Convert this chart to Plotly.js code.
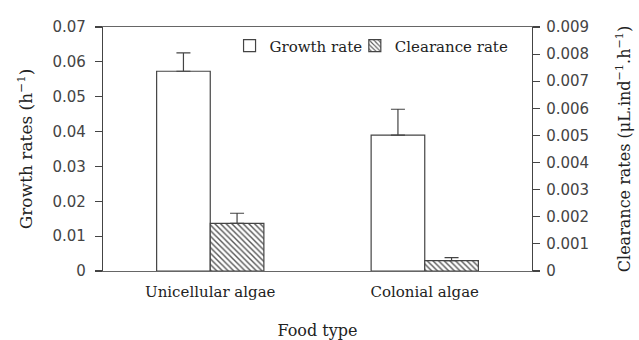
<!DOCTYPE html>
<html>
<head>
<meta charset="utf-8">
<script src="https://cdn.plot.ly/plotly-3.0.1.min.js"></script>
<style>
  html, body { margin: 0; padding: 0; background: #fff; }
  #chart { width: 639px; height: 340px; }
</style>
</head>
<body>
<div id="chart"></div>
<script>
// Food types on the x axis
const foodTypes = ['Unicellular algae', 'Colonial algae'];

// Growth rate (h^-1), left axis, with upper error
const growthRate = [0.0573, 0.0390];
const growthErr  = [0.0053, 0.0074];

// Clearance rate (uL.ind^-1.h^-1), right axis, with upper error
const clearanceRate = [0.00176, 0.00038];
const clearanceErr  = [0.00037, 0.00011];

const lineCol = '#444';
const serif = 'DejaVu Serif, Liberation Serif, serif';
const sans = 'DejaVu Sans, Verdana, sans-serif';

const growthTrace = {
  type: 'bar',
  name: 'Growth rate',
  x: foodTypes,
  y: growthRate,
  yaxis: 'y',
  offsetgroup: 'g',
  legend: 'legend',
  marker: { color: '#fff', line: { color: lineCol, width: 1.2 } },
  error_y: {
    type: 'data', symmetric: false,
    array: growthErr, arrayminus: [0, 0],
    color: lineCol, thickness: 1.2, width: 7
  }
};

const clearanceTrace = {
  type: 'bar',
  name: 'Clearance rate',
  x: foodTypes,
  y: clearanceRate,
  yaxis: 'y2',
  offsetgroup: 'c',
  legend: 'legend2',
  marker: {
    color: '#fff',
    line: { color: lineCol, width: 1.2 },
    pattern: { shape: '\\', fgcolor: '#555', bgcolor: '#fff', size: 4, solidity: 0.35 }
  },
  error_y: {
    type: 'data', symmetric: false,
    array: clearanceErr, arrayminus: [0, 0],
    color: lineCol, thickness: 1.2, width: 7
  }
};

const legendStyle = {
  orientation: 'h',
  y: 0.99, yanchor: 'top',
  xanchor: 'left',
  bgcolor: 'rgba(0,0,0,0)',
  font: { family: serif, size: 15, color: '#222' },
  itemwidth: 30
};

const layout = {
  width: 639,
  height: 340,
  margin: { l: 103, r: 107, t: 27, b: 69 },
  paper_bgcolor: '#fff',
  plot_bgcolor: '#fff',
  barmode: 'group',
  bargap: 0.5,
  bargroupgap: 0,
  showlegend: true,
  legend: Object.assign({}, legendStyle, { x: 0.295 }),
  legend2: Object.assign({}, legendStyle, { x: 0.587 }),
  xaxis: {
    type: 'category',
    showline: true, linecolor: '#666', linewidth: 1.2, mirror: true,
    ticks: '', showgrid: false, zeroline: false,
    ticklabelstandoff: 7,
    tickfont: { family: serif, size: 15, color: '#222' },
    title: { text: 'Food type', font: { family: serif, size: 16, color: '#222' }, standoff: 24 }
  },
  yaxis: {
    range: [0, 0.07],
    dtick: 0.01,
    showline: true, linecolor: lineCol, linewidth: 1.2,
    ticks: 'outside', ticklen: 7, tickcolor: lineCol, tickwidth: 1.2,
    ticklabelstandoff: 6,
    showgrid: false, zeroline: false,
    tickfont: { family: sans, size: 15, color: '#444' },
    title: { text: 'Growth rates (h<sup>−1</sup>)', font: { family: serif, size: 17, color: '#222' }, standoff: 15 }
  },
  yaxis2: {
    overlaying: 'y',
    side: 'right',
    range: [0, 0.009],
    dtick: 0.001,
    showline: true, linecolor: lineCol, linewidth: 1.2,
    ticks: 'outside', ticklen: 7, tickcolor: lineCol, tickwidth: 1.2,
    ticklabelstandoff: 3,
    showgrid: false, zeroline: false,
    tickfont: { family: sans, size: 15, color: '#444' },
    title: { text: 'Clearance rates (μL.ind<sup>−1</sup>.h<sup>−1</sup>)', font: { family: serif, size: 16, color: '#222' }, standoff: 30 }
  }
};

Plotly.newPlot('chart', [growthTrace, clearanceTrace], layout, { displayModeBar: false, staticPlot: true });
</script>
</body>
</html>
